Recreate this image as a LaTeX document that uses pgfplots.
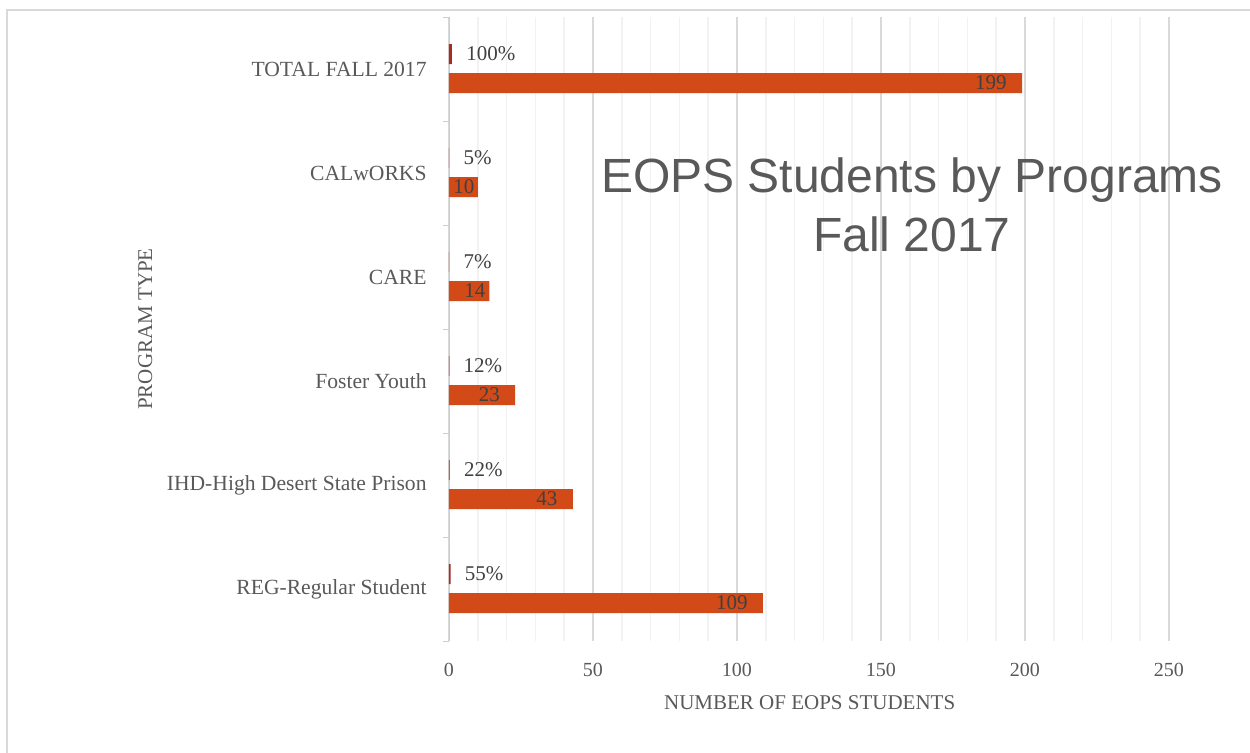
\documentclass[border=0pt]{standalone}
\usepackage{pgfplots}
\usepackage{pgfplotstable}
\pgfplotsset{compat=1.18}
\usepackage{fontspec}
\setmainfont{Liberation Serif}
\newfontfamily\titlefont{Liberation Sans}

\definecolor{barorange}{RGB}{210,74,24}
\definecolor{bardark}{RGB}{165,45,35}
\definecolor{txtgray}{RGB}{89,89,89}
\definecolor{lblgray}{RGB}{64,64,64}

% y: category (0 = bottom), cnt: students, pc: percent, sh: label inset
\pgfplotstableread{
y cnt pc sh
0 109 55 -7.5
1 43 22 -7.5
2 23 12 -7.5
3 14 7 -1.75
4 10 5 -1.5
5 199 100 -7.5
}\eops

\begin{document}
\begin{tikzpicture}
\useasboundingbox (0,0) rectangle (625pt,-376.5pt);
\draw[black!15, line width=0.8pt] (3.5pt,-5pt) rectangle (640pt,-390pt);
\begin{axis}[
    at={(224.5pt,-320.5pt)}, anchor=south west,
    scale only axis, width=360pt, height=312pt,
    xmin=0, xmax=250, ymin=-0.5, ymax=5.5,
    xbar, bar width=10pt, bar shift=0pt,
    axis lines*=left,
    x axis line style={draw=none},
    y axis line style={draw=black!20},
    tick align=outside,
    major tick length=0pt,
    minor tick length=3pt,
    y tick style={draw=black!20},
    xtick={0,50,...,250},
    ytick={0,...,5},
    minor ytick={-0.5,0.5,...,5.5},
    yticklabels={REG-Regular Student, IHD-High Desert State Prison, Foster Youth, CARE, CALwORKS, TOTAL FALL 2017},
    xmajorgrids,
    major x grid style={draw=black!15, line width=0.8pt},
    extra x ticks={10,20,30,40,60,70,80,90,110,120,130,140,160,170,180,190,210,220,230,240},
    extra x tick labels={},
    extra x tick style={grid=major, major x grid style={draw=black!5, line width=0.8pt}},
    /pgf/number format/assume math mode=true,
    tick label style={font=\fontsize{10}{12}\selectfont, text=txtgray},
    yticklabel style={inner sep=0pt, xshift=-11pt, font=\fontsize{10.8}{13}\selectfont},
    xticklabel style={inner sep=0pt, anchor=base, yshift=-18pt},
    xlabel={NUMBER OF EOPS STUDENTS},
    ylabel={PROGRAM TYPE},
    label style={font=\fontsize{10.5}{12}\selectfont, text=txtgray},
    xlabel style={at={(axis description cs:0.501,-0.0994)}, anchor=center},
    ylabel style={at={(axis description cs:-0.422,0.5)}, anchor=center},
    title={EOPS Students by Programs\\Fall 2017},
    title style={at={(axis description cs:0.643,0.679)}, anchor=center, align=center,
        font=\titlefont\fontsize{24}{29.5}\selectfont, text=txtgray},
]
\addplot[fill=barorange, draw=none,
    point meta=x,
    visualization depends on={\thisrow{sh} \as \sh},
    nodes near coords,
    every node near coord/.append style={anchor=east, inner sep=0pt, xshift=\sh pt,
        font=\fontsize{10.5}{12}\selectfont, text=lblgray}]
    table[x=cnt, y expr=\thisrow{y}-0.135] {\eops};
\addplot[fill=bardark, draw=none,
    visualization depends on={\thisrow{pc} \as \pc},
    nodes near coords={\pgfmathprintnumber{\pc}\%},
    every node near coord/.append style={anchor=west, inner sep=0pt, xshift=7pt,
        font=\fontsize{10.5}{12}\selectfont, text=lblgray}]
    table[x expr=\thisrow{pc}/100, y expr=\thisrow{y}+0.144] {\eops};
\end{axis}
\end{tikzpicture}
\end{document}
